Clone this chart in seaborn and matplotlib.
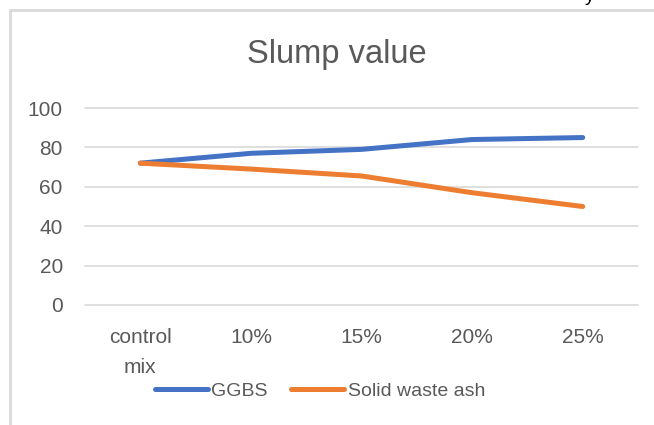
import matplotlib
matplotlib.use("Agg")
import matplotlib.pyplot as plt
import seaborn as sns
import pandas as pd
from matplotlib.lines import Line2D

categories = ["control\nmix", "10%", "15%", "20%", "25%"]
ggbs = [72, 77, 79, 84, 85]
ash = [72, 69, 65.5, 57, 50]
series_names = ["GGBS", "Solid waste ash"]
yticks = [0, 20, 40, 60, 80, 100]

colors = ["#4472C4", "#ED7D31"]
text_color = "#595959"
grid_color = "#D9D9D9"

sns.set_theme(style="white")
plt.rcParams["font.family"] = ["Liberation Sans", "DejaVu Sans"]

df = pd.DataFrame({
    "cat": categories * 2,
    "value": ggbs + ash,
    "series": [series_names[0]] * len(categories) + [series_names[1]] * len(categories),
})
df["pos"] = list(range(len(categories))) * 2

fig = plt.figure(figsize=(6.54, 4.25), dpi=100)
ax = fig.add_axes([85 / 654, 1 - 305 / 425, (638 - 85) / 654, (305 - 108) / 425])

sns.lineplot(data=df, x="pos", y="value", hue="series", palette=colors,
             linewidth=3.6, ax=ax, legend=False, solid_capstyle="round")

ax.set_xlim(-0.5, len(categories) - 0.5)
ax.set_ylim(0, 100)
ax.set_yticks(yticks)
ax.set_xticks(range(len(categories)))
ax.set_xticklabels(categories, linespacing=1.75)
ax.set_xlabel("")
ax.set_ylabel("")
for s in ax.spines.values():
    s.set_visible(False)
ax.grid(axis="y", color=grid_color, linewidth=1.2)
ax.grid(axis="x", visible=False)
ax.set_axisbelow(True)
ax.tick_params(axis="both", length=0, colors=text_color, labelsize=15)
ax.tick_params(axis="y", pad=16)
ax.tick_params(axis="x", pad=16.5)
for gl in ax.get_ygridlines():
    gl.set_clip_on(False)

fig.text(337 / 654, 1 - 55 / 425, "Slump value", ha="center", va="center",
         fontsize=23.5, color=text_color)

handles = [Line2D([0], [0], color=c, linewidth=3.6, solid_capstyle="round") for c in colors]
fig.legend(handles, series_names, loc="center", bbox_to_anchor=(320 / 654, 1 - 391 / 425),
           ncol=2, frameon=False, fontsize=14, handlelength=2.7, handletextpad=0.2,
           columnspacing=1.2, borderpad=0, borderaxespad=0, labelcolor=text_color)

# outer chart frame (partially cut off)
fig.add_artist(Line2D([9.5 / 654, 9.5 / 654], [0, 1 - 9.5 / 425], color=grid_color,
                      linewidth=2, transform=fig.transFigure))
fig.add_artist(Line2D([9.5 / 654, 1], [1 - 9.5 / 425, 1 - 9.5 / 425], color=grid_color,
                      linewidth=2, transform=fig.transFigure))

# fragment of text above the chart
fig.text(590 / 654, 1 - 1 / 425, "y", ha="center", va="baseline", fontsize=14, color="black")

fig.savefig("out.png", dpi=100)
